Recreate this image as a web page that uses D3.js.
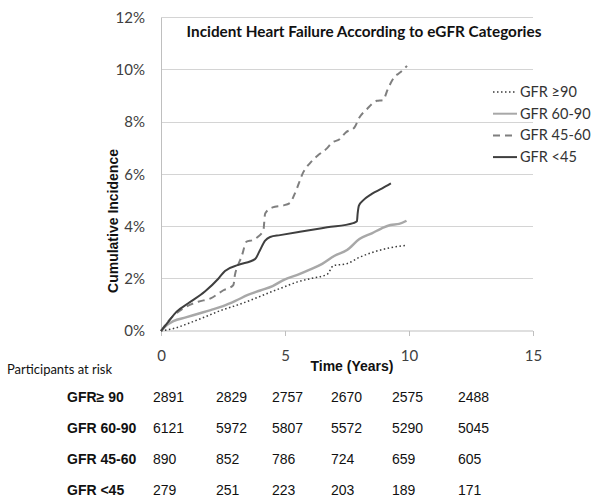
<!DOCTYPE html>
<html><head><meta charset="utf-8">
<script src="https://cdn.jsdelivr.net/npm/d3@7"></script>
<style>body{margin:0;background:#fff}svg{display:block}</style>
</head><body>
<svg id="c" width="600" height="500"></svg>
<script>
// ---- data ----
const seriesNames = ["GFR \u226590", "GFR 60-90", "GFR 45-60", "GFR <45"];
const t90 = [0,0.3,0.6,1.1,1.8,2.45,3.1,3.8,4.45,5.0,5.5,6.1,6.7,6.95,7.5,8.0,8.5,9.2,9.9];
const p90 = [0,0.05,0.12,0.29,0.55,0.8,1.0,1.25,1.5,1.7,1.88,2.02,2.17,2.5,2.58,2.82,3.0,3.18,3.28];
const t6090 = [0,0.2,0.5,1.0,1.5,2.0,2.5,3.0,3.5,4.0,4.5,5.0,5.5,6.0,6.5,7.0,7.5,8.0,8.5,8.9,9.25,9.6,9.9];
const p6090 = [0,0.2,0.38,0.52,0.66,0.8,0.95,1.15,1.38,1.55,1.72,1.98,2.15,2.35,2.57,2.88,3.1,3.52,3.74,3.93,4.06,4.1,4.22];
const t4560 = [0,0.3,0.9,1.5,2.0,2.5,2.92,2.98,3.1,3.25,3.45,3.7,3.9,4.13,4.2,4.5,4.9,5.2,5.4,5.75,6.0,6.3,6.7,6.9,7.2,7.45,7.8,8.0,8.3,8.7,8.95,9.15,9.4,9.65,9.92];
const p4560 = [0,0.38,0.87,1.12,1.25,1.55,1.76,2.14,2.5,2.85,3.42,3.48,3.6,3.87,4.5,4.73,4.8,4.9,5.27,6.1,6.42,6.7,7.0,7.21,7.34,7.6,7.79,8.17,8.49,8.81,8.84,9.27,9.71,9.9,10.15];
const t45 = [0,0.3,0.63,1.1,1.77,2.31,2.58,3.12,3.79,3.97,4.19,4.4,4.8,5.6,6.7,7.75,7.9,7.93,7.98,8.15,8.5,8.9,9.27];
const p45 = [0,0.36,0.74,1.06,1.51,2.0,2.3,2.53,2.75,3.05,3.45,3.6,3.67,3.8,3.97,4.13,4.2,4.5,4.8,5.0,5.25,5.45,5.65];
const yTicks = [0,2,4,6,8,10,12];
const xTicks = [0,5,10,15];
const riskLabels = ["GFR\u2265 90", "GFR 60-90", "GFR 45-60", "GFR <45"];
const risk90 = [2891,2829,2757,2670,2575,2488];
const risk6090 = [6121,5972,5807,5572,5290,5045];
const risk4560 = [890,852,786,724,659,605];
const risk45 = [279,251,223,203,189,171];

// ---- layout / style ----
const svg = d3.select("#c");
const x = d3.scaleLinear().domain([0,15]).range([161,533]);
const y = d3.scaleLinear().domain([0,12]).range([331,17.5]);
const styles = [
  {color:"#3a3a3a", width:1.5, dash:"1.5,2.5"},
  {color:"#a8a8a8", width:2.5, dash:null},
  {color:"#7f7f7f", width:2, dash:"7,5"},
  {color:"#3f3f3f", width:2, dash:null}
];
const series = [[t90,p90],[t6090,p6090],[t4560,p4560],[t45,p45]];
const calibri = "Lato, 'Open Sans', sans-serif";
const arial = "'Liberation Sans', Arial, sans-serif";

// gridlines
svg.append("g").selectAll("line").data(yTicks.filter(d=>d>0)).join("line")
  .attr("x1",x(0)).attr("x2",x(15)).attr("y1",d=>y(d)).attr("y2",d=>y(d))
  .attr("stroke","#d4d4d4").attr("stroke-width",1).attr("shape-rendering","crispEdges");

// y axis
const ya = svg.append("g").attr("transform",`translate(${x(0)},0)`)
  .call(d3.axisLeft(y).tickValues(yTicks).tickSize(0).tickPadding(16).tickFormat(d=>d+"%"));
ya.select(".domain").attr("stroke","#bfbfbf");
ya.selectAll("text").attr("font-family",calibri).attr("font-size",15).attr("fill","#404040");

// x axis
const xa = svg.append("g").attr("transform",`translate(0,${y(0)})`)
  .call(d3.axisBottom(x).tickValues(xTicks).tickSize(5).tickPadding(14).tickFormat(d3.format("d")));
xa.select(".domain").attr("stroke","#bfbfbf").attr("d",`M${x(0)},0H${x(15)}`);
xa.selectAll("line").attr("stroke","#bfbfbf");
xa.selectAll("text").attr("font-family",calibri).attr("font-size",15).attr("fill","#404040");

// lines
const line = d3.line().x(d=>x(d[0])).y(d=>y(d[1])).curve(d3.curveMonotoneX);
series.forEach((s,i)=>{
  const pts = s[0].map((t,j)=>[t,s[1][j]]);
  svg.append("path").datum(pts).attr("d",line).attr("fill","none")
    .attr("stroke",styles[i].color).attr("stroke-width",styles[i].width)
    .attr("stroke-dasharray",styles[i].dash);
});

// title
svg.append("text").attr("x",364).attr("y",37).attr("text-anchor","middle")
  .attr("font-family",calibri).attr("font-weight","bold").attr("font-size",15.3).attr("fill","#111")
  .text("Incident Heart Failure According to eGFR Categories");

// legend
const lg = svg.append("g");
seriesNames.forEach((n,i)=>{
  const yy = 92 + i*21.7;
  lg.append("line").attr("x1",493).attr("x2",517).attr("y1",yy).attr("y2",yy)
    .attr("stroke",styles[i].color).attr("stroke-width",styles[i].width===2.5?2:styles[i].width)
    .attr("stroke-dasharray",styles[i].dash);
  lg.append("text").attr("x",520).attr("y",yy+5).attr("font-family",calibri).attr("font-size",14.5)
    .attr("fill","#333").text(n);
});

// axis titles
svg.append("text").attr("transform","translate(118,221) rotate(-90)").attr("text-anchor","middle")
  .attr("font-family",arial).attr("font-weight","bold").attr("font-size",14).attr("fill","#111")
  .text("Cumulative Incidence");
svg.append("text").attr("x",352).attr("y",371).attr("text-anchor","middle")
  .attr("font-family",arial).attr("font-weight","bold").attr("font-size",14).attr("fill","#111")
  .text("Time (Years)");

// risk table
svg.append("text").attr("x",7).attr("y",374).attr("font-family",calibri).attr("font-size",13)
  .attr("fill","#111").text("Participants at risk");
const colX = [153,216,272,331,392,458];
const rows = [risk90,risk6090,risk4560,risk45];
rows.forEach((r,i)=>{
  const yy = 402 + i*31;
  svg.append("text").attr("x",67).attr("y",yy).attr("font-family",arial).attr("font-weight","bold")
    .attr("font-size",14).attr("fill","#111").text(riskLabels[i]);
  r.forEach((v,j)=>{
    svg.append("text").attr("x",colX[j]).attr("y",yy).attr("font-family",arial)
      .attr("font-size",14).attr("fill","#111").text(v);
  });
});
</script>
</body></html>
